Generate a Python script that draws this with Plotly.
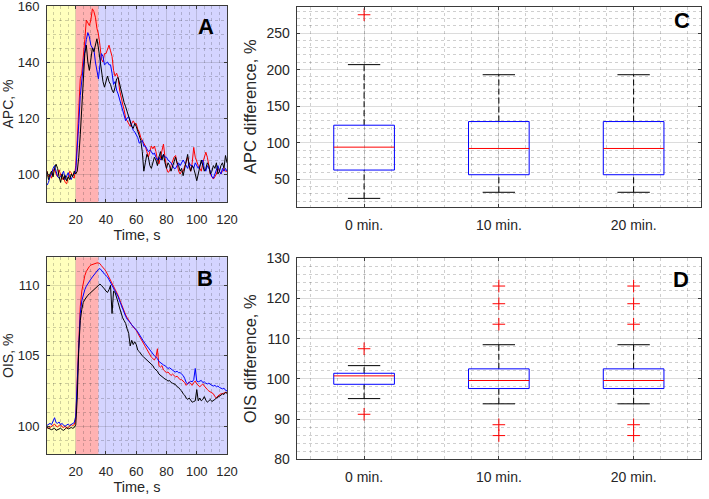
import plotly.graph_objects as go

# ---------------- data ----------------
time_s = list(range(1, 121))

apc_red = [
    101, 99, 100, 98.5, 101, 102, 100, 99, 101.5, 100,
    98, 99, 97, 96.5, 99, 101, 100.5, 99, 98.5, 103,
    112, 124, 134, 136, 141, 148, 155, 154, 153, 155,
    159, 158, 156, 152, 150, 146, 141, 140, 143, 143,
    145, 146, 144, 142, 137, 135, 136, 134.5, 130, 127,
    125, 123, 120, 119, 118, 117, 118, 119, 118, 118,
    116, 115, 113, 112, 111, 110, 108, 106, 108, 110,
    109, 110, 108, 105, 103.6, 106, 108, 110.7, 106, 102,
    100.6, 101, 103, 104.8, 106, 106.6, 104, 101, 100, 101,
    101, 103, 105, 106, 103, 101, 104, 109.5, 106, 104,
    103, 102, 101, 104, 106, 107.8, 106, 103, 100, 99,
    98.2, 99, 100, 102, 101, 100, 101, 102, 101, 101]
apc_blue = [
    96, 97, 99, 100, 102, 103, 101, 99, 98.5, 99,
    100, 101, 98, 99, 100.5, 99, 98, 99.5, 100, 101,
    108, 118, 128, 134, 138, 144, 148, 150.5, 149, 146,
    145, 144.6, 140, 137, 134, 139, 143, 142, 139, 139.5,
    140, 139, 139, 136, 132, 133, 130, 128.6, 126.5, 125,
    123, 121, 119, 120, 120.5, 119, 117, 115.6, 115, 114,
    113, 111, 111.5, 112, 110, 110, 109, 108, 108.5, 108,
    107, 107.5, 106, 105, 106, 105, 106, 107, 106, 106,
    105, 104.5, 104, 103, 102, 102, 103, 104, 103, 104,
    105, 104, 103, 102, 104, 103, 103, 102, 104, 103,
    102, 103, 104, 105, 102, 101, 103, 102, 101, 99,
    98.5, 100, 102, 103, 101, 100, 102, 101, 102, 101]
apc_black = [
    101, 98, 100, 101, 99, 102, 103.5, 102, 99, 97,
    100, 98, 99.5, 97.5, 99, 98, 100, 99, 101, 100,
    101, 106, 114, 124, 132, 143, 146, 140, 137, 141,
    145, 143.7, 146, 148.3, 145, 141, 137, 133, 131, 133,
    135, 133, 132, 130, 129, 131, 134, 134.5, 132, 130,
    127, 125.5, 124, 122, 120, 119, 117, 116.3, 118, 117,
    115, 114, 112, 108, 101, 104, 107, 106, 103, 102,
    104, 106, 105, 103, 106, 108, 105, 107, 104, 102,
    104, 103, 101, 103, 105, 106, 104, 103, 101, 102,
    99.4, 102, 104, 107, 103, 101, 103, 102, 100, 97.6,
    100, 103, 105, 103, 101, 102, 104, 103, 100, 101,
    103, 102, 104, 100, 101, 103, 104, 102, 106.6, 104]

ois_red = [
    99.9, 99.85, 99.9, 100.0, 100.1, 100.15, 100.0, 99.95, 100.05, 100.1,
    99.95, 99.9, 100.0, 99.85, 99.9, 100.0, 100.1, 100.05, 100.1, 100.5,
    103.5, 106.5, 108.5, 109.6, 110.3, 110.7, 111.0, 111.2, 111.35, 111.45,
    111.5, 111.55, 111.6, 111.6, 111.6, 111.55, 111.4, 111.3, 111.15, 111.0,
    110.8, 110.6, 110.4, 110.2, 110.0, 109.8, 109.6, 109.3, 109.0, 108.7,
    108.4, 108.1, 107.9, 107.7, 107.5, 107.3, 107.2, 107.05, 106.95, 106.8,
    106.6, 106.4, 106.2, 106.0, 105.8, 105.7, 105.5, 105.3, 105.1, 104.9,
    104.8, 104.7, 104.9, 105.5, 104.3, 104.2, 104.3, 104.0, 103.9, 103.8,
    103.85, 103.75, 103.6, 103.7, 103.6, 103.5, 103.55, 103.4, 103.3, 103.3,
    103.2, 103.1, 102.9, 103.0, 103.15, 103.0, 102.9, 103.1, 103.2, 103.0,
    102.9, 102.8, 102.9, 103.0, 102.85, 102.7, 102.6, 102.5, 102.45, 102.4,
    102.3, 102.1, 102.0, 102.15, 102.25, 102.3, 102.3, 102.35, 102.4, 102.35]
ois_blue = [
    100.05, 100.15, 100.2, 100.1, 100.3, 100.6, 100.25, 100.2, 100.3, 100.1,
    100.2, 100.05, 100.0, 100.1, 100.15, 100.05, 100.1, 100.2, 100.25, 100.7,
    103.0, 106.0, 108.0, 108.9, 109.4, 109.7, 109.95, 110.15, 110.3, 110.45,
    110.6, 110.75, 110.9, 111.05, 111.15, 111.2, 111.1, 110.95, 110.8, 110.7,
    110.6, 110.4, 110.2, 110.05, 109.9, 109.7, 109.5, 109.2, 108.9, 108.6,
    108.3, 108.0, 107.8, 107.6, 107.5, 107.35, 107.2, 107.1, 107.0, 106.85,
    106.7, 106.5, 106.3, 106.15, 106.0, 105.85, 105.7, 105.6, 105.45, 105.3,
    105.15, 105.0, 104.9, 104.8, 104.6, 104.5, 104.45, 104.35, 104.3, 104.2,
    104.1, 104.15, 104.05, 104.0, 103.9, 103.85, 103.9, 103.8, 103.8, 103.7,
    103.6, 103.4, 103.1, 103.0, 103.1, 103.2, 103.15, 103.3, 104.1, 103.2,
    103.15, 103.2, 103.25, 103.1, 103.15, 103.05, 103.0, 103.05, 102.95, 102.9,
    102.85, 102.9, 102.8, 102.85, 102.75, 102.7, 102.65, 102.7, 102.55, 102.5]
ois_black = [
    99.9, 99.85, 99.8, 99.75, 99.8, 99.85, 99.7, 99.75, 99.8, 99.85,
    99.75, 99.7, 99.8, 99.9, 99.8, 99.85, 99.9, 99.85, 99.9, 100.1,
    102.0, 105.5, 107.5, 108.3, 108.8, 109.0, 109.2, 109.3, 109.4, 109.5,
    109.6, 109.7, 109.8, 109.95, 110.05, 110.1, 110.0, 109.9, 109.75, 109.6,
    109.5, 109.7, 110.0, 108.0, 109.6, 109.5, 109.2, 108.8, 108.4, 108.0,
    107.7, 107.5, 107.3, 106.9, 106.6, 105.7, 106.1, 105.8, 106.0, 105.8,
    105.4, 105.3, 105.1, 105.0, 104.9, 104.8, 104.7, 104.6, 104.5, 104.4,
    104.3, 104.1, 104.0, 103.9, 103.7, 103.6, 103.55, 103.45, 103.35, 103.3,
    103.2, 103.25, 103.1, 103.05, 103.0, 102.95, 102.8, 102.75, 102.6, 102.5,
    102.3, 102.2, 102.0, 101.9, 102.0, 101.8, 101.7, 101.75, 101.8, 102.6,
    101.8, 102.0, 101.8, 101.9, 102.1, 101.85, 101.7, 101.8, 101.9, 101.75,
    101.8, 101.9, 102.0, 102.05, 102.15, 102.2, 102.3, 102.25, 102.4, 102.35]

phase_bounds = [1, 20, 35, 120]
phase_colors = ["rgba(255,255,0,0.26)", "rgba(255,0,0,0.30)", "rgba(0,0,255,0.17)"]

groups = ["0 min.", "10 min.", "20 min."]
apc_q1 = [62.7, 56.3, 56.3]
apc_med = [94.0, 92.2, 92.2]
apc_q3 = [124.0, 129.0, 129.0]
apc_wlo = [24.0, 32.3, 32.3]
apc_whi = [206.8, 193.0, 193.0]
apc_out = [[275.0], [], []]

ois_q1 = [98.66, 97.6, 97.6]
ois_med = [100.75, 99.6, 99.6]
ois_q3 = [101.4, 102.5, 102.5]
ois_wlo = [95.1, 93.8, 93.8]
ois_whi = [103.3, 108.5, 108.5]
ois_out = [[107.5, 91.2],
           [123.1, 118.7, 113.6, 88.6, 85.9],
           [123.1, 118.7, 113.6, 88.6, 85.9]]

# ---------------- style ----------------
W, H = 709, 499
FONT = "Liberation Sans, Arial, sans-serif"
FRAME = "#3a3a3a"
GRID = "rgba(38,38,38,0.16)"
MGRID = "rgba(38,38,38,0.22)"
BOX_HALF = 0.225
CAP_HALF = 0.12


def px_dom(a, b, total):
    return [a / total, b / total]


def ydom(top, bottom):
    return [1 - bottom / H, 1 - top / H]


fig = go.Figure()

# ---- time series panels (A: x/y, B: x3/y3)
series_sets = [
    ("x", "y", [apc_red, apc_blue, apc_black]),
    ("x3", "y3", [ois_red, ois_blue, ois_black]),
]
line_cols = ["#ff0000", "#0000ff", "#000000"]
for xa, ya, sets in series_sets:
    for vals, col in zip(sets, line_cols):
        fig.add_trace(go.Scatter(x=time_s, y=vals, mode="lines",
                                 line=dict(color=col, width=1),
                                 xaxis=xa, yaxis=ya, showlegend=False,
                                 hoverinfo="skip"))
    for i in range(len(phase_bounds) - 1):
        fig.add_shape(type="rect", xref=xa, yref=ya + " domain",
                      x0=phase_bounds[i], x1=phase_bounds[i + 1], y0=0, y1=1,
                      fillcolor=phase_colors[i], line=dict(width=0),
                      layer="below")


# ---- box panels (C: x2/y2, D: x4/y4)
def add_boxes(xa, ya, q1, med, q3, wlo, whi, outs):
    for i, g in enumerate(groups):
        p = i + 1
        kw = dict(xaxis=xa, yaxis=ya, showlegend=False, hoverinfo="skip")
        fig.add_trace(go.Scatter(x=[p, p, None, p, p],
                                 y=[q3[i], whi[i], None, wlo[i], q1[i]],
                                 mode="lines",
                                 line=dict(color="#000000", width=1, dash="6px,3px"),
                                 **kw))
        fig.add_trace(go.Scatter(x=[p - CAP_HALF, p + CAP_HALF, None, p - CAP_HALF, p + CAP_HALF],
                                 y=[whi[i], whi[i], None, wlo[i], wlo[i]],
                                 mode="lines", line=dict(color="#000000", width=1),
                                 **kw))
        fig.add_trace(go.Scatter(x=[p - BOX_HALF, p + BOX_HALF, p + BOX_HALF, p - BOX_HALF, p - BOX_HALF],
                                 y=[q1[i], q1[i], q3[i], q3[i], q1[i]],
                                 mode="lines", line=dict(color="#0000ff", width=1),
                                 **kw))
        fig.add_trace(go.Scatter(x=[p - BOX_HALF, p + BOX_HALF], y=[med[i], med[i]],
                                 mode="lines", line=dict(color="#ff0000", width=1),
                                 **kw))
        if outs[i]:
            fig.add_trace(go.Scatter(x=[p] * len(outs[i]), y=outs[i], mode="markers",
                                     marker=dict(symbol="cross-thin", size=9,
                                                 line=dict(color="#ff0000", width=1)),
                                     **kw))


add_boxes("x2", "y2", apc_q1, apc_med, apc_q3, apc_wlo, apc_whi, apc_out)
add_boxes("x4", "y4", ois_q1, ois_med, ois_q3, ois_wlo, ois_whi, ois_out)


def axis_common(fs, **extra):
    d = dict(showline=True, linecolor=FRAME, linewidth=1, mirror="ticks",
             ticks="inside", ticklen=3, tickcolor=FRAME, automargin=False,
             ticklabeloverflow="allow",
             showgrid=True, gridcolor=GRID, gridwidth=1, zeroline=False,
             tickfont=dict(family=FONT, size=fs, color="#262626"))
    d.update(extra)
    return d


def title(t, standoff, fs):
    return dict(text=t, font=dict(family=FONT, size=fs, color="#262626"), standoff=standoff)


def minor(t0, dt, **kw):
    d = dict(tick0=t0, dtick=dt, showgrid=True, griddash="dot", gridcolor=MGRID)
    d.update(kw)
    return d


xA = px_dom(47, 227, W)
xC = px_dom(296.7, 701, W)

layout = dict(
    width=W, height=H, margin=dict(l=0, r=0, t=0, b=0, autoexpand=False),
    paper_bgcolor="white", plot_bgcolor="white", showlegend=False,
    font=dict(family=FONT, color="#262626"),
    xaxis=axis_common(13, domain=xA, anchor="y", range=[1, 120], tick0=0, dtick=20,
                      ticklabelstandoff=5, minor=minor(0, 5),
                      title=title("Time, s", 3, 14.5)),
    yaxis=axis_common(13, domain=ydom(6, 202), anchor="x", range=[90, 160], tick0=0, dtick=20,
                      ticklabelstandoff=4, minor=minor(0, 5),
                      title=title("APC, %", 3, 14)),
    xaxis3=axis_common(13, domain=xA, anchor="y3", range=[1, 120], tick0=0, dtick=20,
                       ticklabelstandoff=5, minor=minor(0, 5),
                       title=title("Time, s", 3, 14.5)),
    yaxis3=axis_common(13, domain=ydom(257.3, 454.3), anchor="x3", range=[98, 112], tick0=0, dtick=5,
                       ticklabelstandoff=4, minor=minor(0, 1),
                       title=title("OIS, %", 3, 14)),
    xaxis2=axis_common(14, domain=xC, anchor="y2", range=[0.5, 3.5], tickmode="array",
                       tickvals=[1, 2, 3], ticktext=groups, ticklabelstandoff=5,
                       minor=minor(0, 0.2, tickmode="linear")),
    yaxis2=axis_common(14, domain=ydom(6.7, 206.7), anchor="x2", range=[12.6, 286], tick0=0, dtick=50,
                       ticklabelstandoff=3, minor=minor(0, 10),
                       title=title("APC difference, %", 5, 16.5)),
    xaxis4=axis_common(14, domain=xC, anchor="y4", range=[0.5, 3.5], tickmode="array",
                       tickvals=[1, 2, 3], ticktext=groups, ticklabelstandoff=5,
                       minor=minor(0, 0.2, tickmode="linear")),
    yaxis4=axis_common(14, domain=ydom(258.3, 459.3), anchor="x4", range=[80, 130], tick0=0, dtick=10,
                       ticklabelstandoff=3, minor=minor(0, 2),
                       title=title("OIS difference, %", 5, 16.5)),
)
fig.update_layout(**layout)

letters = [("A", 205.5, 26), ("B", 205.3, 278), ("C", 681.7, 20), ("D", 681, 279)]
for txt, lx, ly in letters:
    fig.add_annotation(text="<b>%s</b>" % txt, xref="paper", yref="paper",
                       x=lx / W, y=1 - ly / H, xanchor="center", yanchor="middle",
                       showarrow=False, font=dict(family=FONT, size=22, color="#000000"))

fig.write_html("out.html", config={"displayModeBar": False},
               post_script="document.body.style.margin='0';document.body.style.padding='0';")
